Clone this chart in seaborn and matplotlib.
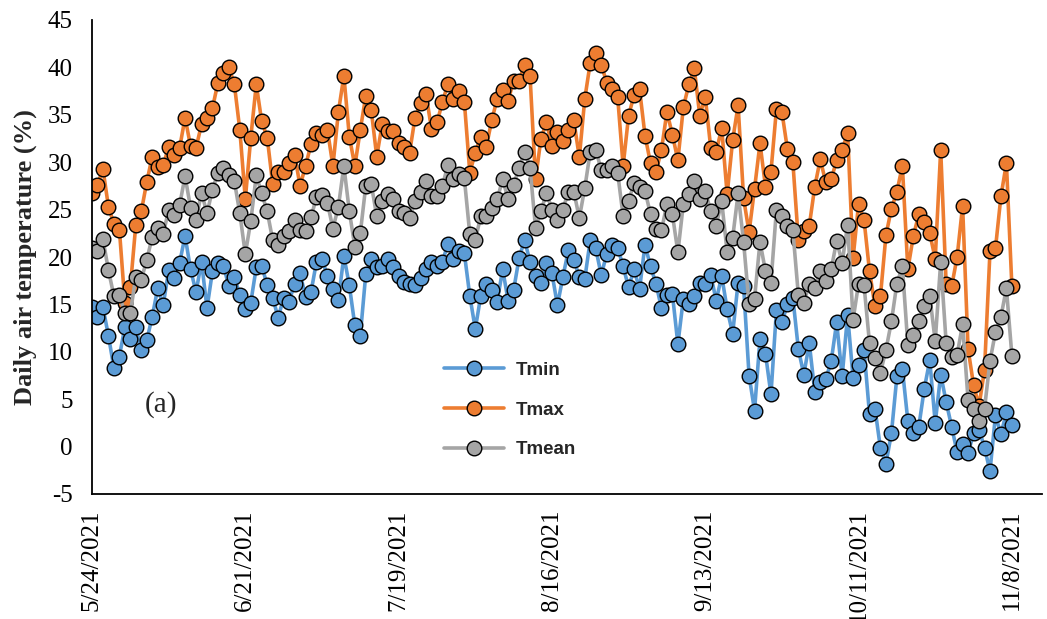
import matplotlib
matplotlib.use("Agg")
import matplotlib.pyplot as plt
from matplotlib.font_manager import FontProperties
import numpy as np
import pandas as pd
import seaborn as sns

# ---------------- data ----------------
start_date = "2021-05-24"

tmin = [14.7, 13.7, 14.7, 11.7, 8.3, 9.5, 12.6, 11.4, 12.6, 10.2,
        11.2, 13.7, 16.7, 14.9, 18.6, 17.8, 19.4, 22.2, 18.7, 16.3,
        19.5, 14.6, 18.5, 19.4, 19.1, 16.9, 17.9, 16.0, 14.5, 15.2,
        18.9, 19.1, 17.0, 15.7, 13.6, 15.7, 15.3, 17.2, 18.3, 15.8,
        16.3, 19.5, 19.8, 18.0, 16.6, 15.5, 20.1, 17.0, 12.8, 11.7,
        18.2, 19.8, 18.9, 19.0, 19.8, 18.9, 18.0, 17.4, 17.2, 17.0,
        17.8, 18.7, 19.5, 19.0, 19.5, 21.4, 19.8, 20.6, 20.4, 15.9,
        12.4, 15.9, 17.1, 16.5, 15.3, 18.7, 15.4, 16.5, 19.9, 21.8,
        19.5, 18.0, 17.3, 19.4, 18.3, 14.9, 17.9, 20.7, 19.7, 17.9,
        17.7, 21.8, 20.9, 18.1, 20.3, 21.3, 21.0, 19.0, 16.8, 18.7,
        16.6, 21.3, 19.0, 17.2, 14.6, 16.0, 16.1, 10.8, 15.6, 15.0,
        15.9, 17.3, 17.1, 18.1, 15.4, 18.0, 14.5, 11.9, 17.3, 16.9,
        7.5, 3.8, 11.4, 9.8, 5.5, 14.4, 13.1, 15.0, 15.7, 10.3,
        7.6, 10.9, 5.8, 6.8, 7.1, 9.0, 13.1, 7.4, 13.9, 7.2,
        8.6, 10.2, 3.4, 4.0, -0.2, -1.8, 1.4, 7.4, 8.2, 2.7,
        1.4, 2.1, 6.1, 9.1, 2.5, 7.6, 4.7, 2.1, -0.6, 0.3,
        -0.7, 1.4, 1.8, -0.1, -2.6, 3.3, 1.3, 3.6, 2.3]

tmax = [26.8, 27.6, 29.3, 25.3, 23.5, 22.9, 15.2, 16.8, 23.4, 24.8,
        27.9, 30.6, 29.5, 29.7, 31.6, 30.8, 31.5, 34.7, 31.7, 31.5,
        34.0, 34.7, 35.7, 38.4, 39.4, 40.0, 38.2, 33.4, 26.1, 32.6,
        38.2, 34.3, 32.6, 27.7, 29.0, 29.0, 29.9, 30.8, 27.5, 29.6,
        31.9, 33.1, 32.9, 33.4, 29.6, 35.3, 39.1, 32.7, 29.6, 33.4,
        37.0, 35.5, 30.6, 34.0, 33.3, 33.3, 32.0, 31.6, 31.0, 34.7,
        36.2, 37.2, 33.5, 34.2, 36.3, 38.3, 36.7, 37.5, 36.4, 28.9,
        31.0, 32.7, 31.6, 34.4, 36.7, 37.6, 36.5, 38.6, 38.6, 40.3,
        39.1, 28.2, 32.5, 34.2, 31.7, 33.2, 32.2, 33.4, 34.4, 30.5,
        36.7, 40.5, 41.5, 40.3, 38.4, 37.7, 36.9, 29.6, 34.9, 37.1,
        37.7, 32.8, 29.9, 29.0, 31.3, 35.3, 32.9, 30.2, 35.8, 38.2,
        39.9, 34.9, 36.9, 31.5, 31.1, 33.6, 26.6, 32.3, 36.0, 26.2,
        22.6, 27.2, 32.0, 27.4, 29.0, 35.6, 35.3, 31.4, 30.0, 21.8,
        22.7, 23.3, 27.4, 30.3, 27.9, 28.2, 30.2, 31.3, 33.1, 19.9,
        25.6, 23.9, 18.5, 14.8, 15.9, 22.3, 25.1, 26.9, 29.6, 18.7,
        22.2, 24.5, 23.7, 22.5, 19.8, 31.3, 17.1, 16.9, 20.0, 25.4,
        10.3, 6.5, 4.3, 8.1, 20.6, 20.9, 26.4, 29.9, 16.9]

tmean = [20.9, 20.6, 21.9, 18.6, 15.9, 16.0, 14.1, 14.1, 17.9, 17.6,
         19.7, 22.1, 23.1, 22.4, 25.0, 24.4, 25.5, 28.5, 25.2, 23.9,
         26.8, 24.6, 27.1, 28.9, 29.4, 28.6, 28.0, 24.6, 20.3, 23.8,
         28.6, 26.7, 24.8, 21.8, 21.3, 22.2, 22.7, 23.9, 22.9, 22.7,
         24.2, 26.3, 26.5, 25.7, 23.0, 25.3, 29.6, 24.8, 21.1, 22.5,
         27.5, 27.7, 24.3, 25.9, 26.6, 26.1, 24.8, 24.6, 24.1, 25.9,
         26.9, 28.0, 26.4, 26.4, 27.5, 29.7, 28.2, 28.8, 28.3, 22.4,
         21.8, 24.3, 24.3, 25.2, 26.1, 28.2, 26.1, 27.6, 29.4, 31.1,
         29.4, 23.1, 24.8, 26.8, 25.0, 23.9, 25.0, 26.9, 26.9, 24.1,
         27.3, 31.1, 31.3, 29.2, 29.2, 29.6, 28.9, 24.3, 25.9, 27.8,
         27.4, 27.0, 24.5, 23.0, 22.8, 25.6, 24.5, 20.5, 25.6, 26.6,
         28.0, 26.1, 27.0, 24.8, 23.3, 25.9, 20.5, 22.0, 26.7, 21.6,
         15.0, 15.6, 21.6, 18.5, 17.3, 25.0, 24.3, 23.3, 22.8, 16.0,
         15.2, 17.1, 16.7, 18.5, 17.5, 18.7, 21.7, 19.4, 23.4, 13.4,
         17.2, 17.0, 10.9, 9.3, 7.8, 10.2, 13.2, 17.2, 19.0, 10.7,
         11.8, 13.2, 14.8, 15.9, 11.1, 19.5, 10.9, 9.5, 9.7, 12.9,
         4.9, 4.0, 2.7, 4.0, 9.0, 12.1, 13.7, 16.7, 9.6]

series_names = ["Tmin", "Tmax", "Tmean"]
series_colors = ["#5B9BD5", "#ED7D31", "#A5A5A5"]

tick_labels = ["5/24/2021", "6/21/2021", "7/19/2021", "8/16/2021",
               "9/13/2021", "10/11/2021", "11/8/2021"]
y_ticks = [-5, 0, 5, 10, 15, 20, 25, 30, 35, 40, 45]
y_label = "Daily air temperature (%)"
panel_label = "(a)"

# ---------------- style ----------------
sns.set_style("white")
plt.rcParams["font.family"] = ["Liberation Serif", "DejaVu Serif"]
plt.rcParams["axes.unicode_minus"] = False

W, H = 1047, 619
fig = plt.figure(figsize=(W / 100, H / 100), dpi=100)
left_px, right_px, top_px, bottom_px = 92, 1042, 20, 494
ax = fig.add_axes([left_px / W, 1 - bottom_px / H,
                   (right_px - left_px) / W, (bottom_px - top_px) / H])

dates = pd.date_range(start_date, periods=len(tmin), freq="D")
df = pd.DataFrame({"date": dates, "Tmin": tmin, "Tmax": tmax, "Tmean": tmean})

for name, color in zip(series_names, series_colors):
    sns.lineplot(data=df, x="date", y=name, ax=ax, color=color,
                 linewidth=2.6, marker="o", markersize=10.5,
                 markerfacecolor=color, markeredgecolor="black",
                 markeredgewidth=1.0, label=name)

# axes
ax.set_xlim(dates[0], dates[0] + pd.Timedelta(days=173.5))
ax.set_ylim(-5, 45)
ax.set_yticks(y_ticks)
ax.set_yticklabels([str(v) for v in y_ticks], fontsize=18)
tick_dates = pd.to_datetime(tick_labels, format="%m/%d/%Y")
ax.set_xticks(tick_dates)
ax.set_xticklabels(tick_labels, rotation=90, fontsize=18)
ax.set_xlabel("")
ax.set_ylabel(y_label, fontsize=19, fontweight="bold", va="center")
ax.yaxis.set_label_coords((25 - left_px) / (right_px - left_px), 0.5)

ax.tick_params(axis="x", direction="inout", length=10, width=1.2, pad=6,
               colors="black")
ax.tick_params(axis="y", direction="out", length=5, width=1.2, pad=9,
               colors="black")
for s in ["top", "right"]:
    ax.spines[s].set_visible(False)
for s in ["left", "bottom"]:
    ax.spines[s].set_color("black")
    ax.spines[s].set_linewidth(1.3)
ax.grid(False)

# panel label
ax.text(dates[0] + pd.Timedelta(days=12.6), 4.4, panel_label,
        fontsize=21, ha="center", va="center")

# legend
ax.legend(loc="center", bbox_to_anchor=(0.44, 0.177), frameon=False,
          prop=FontProperties(family="Liberation Sans", weight="bold", size=13.5),
          handlelength=3.2, handletextpad=0.65, labelspacing=1.2,
          borderpad=0, numpoints=1)

fig.savefig("out.png", dpi=100)
